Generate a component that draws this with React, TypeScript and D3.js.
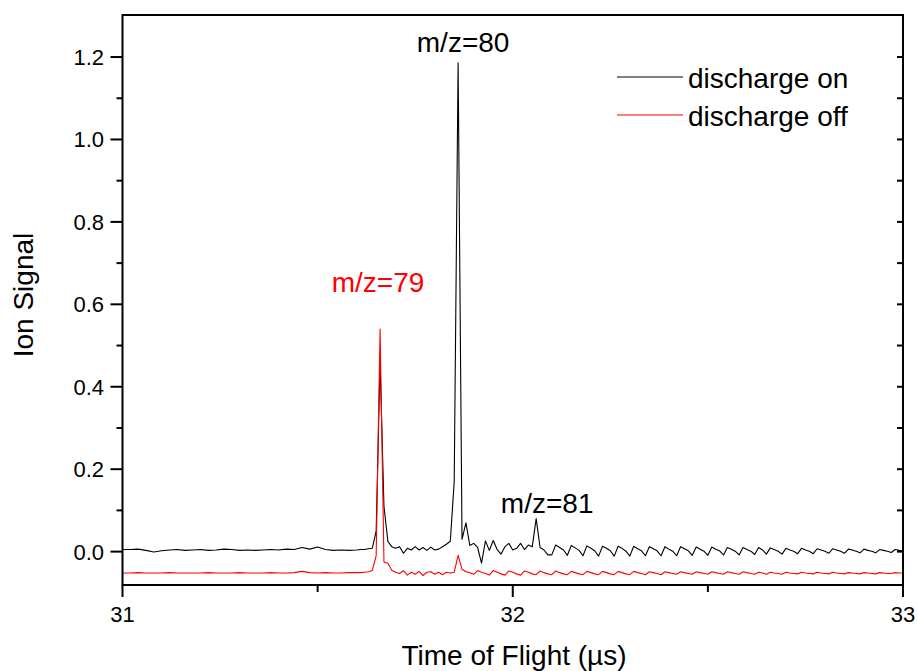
import React from "react";
import * as d3 from "d3";

// ---------- data ----------
const X_DOMAIN: [number, number] = [31, 33];
const Y_DOMAIN: [number, number] = [-0.081, 1.302];
const X_MAJOR = [31, 32, 33];
const X_MINOR = [31.5, 32.5];
const Y_MAJOR = [0, 0.2, 0.4, 0.6, 0.8, 1.0, 1.2];
const Y_MINOR = [0.1, 0.3, 0.5, 0.7, 0.9, 1.1];
const X_TITLE = "Time of Flight (µs)";
const Y_TITLE = "Ion Signal";
const SERIES_NAMES = ["discharge on", "discharge off"];
const PEAK_LABELS = ["m/z=79", "m/z=80", "m/z=81"];
const PEAK_TIMES = [31.66, 31.86, 32.06];

// discharge on: [time (µs), signal]
const dischargeOn: [number, number][] = [
  [31.00,0.005],[31.02,0.005],[31.04,0.006],[31.06,0.003],[31.08,-0.001],[31.10,0.002],
  [31.12,0.004],[31.14,0.005],[31.16,0.003],[31.18,0.004],[31.20,0.005],[31.22,0.003],
  [31.24,0.004],[31.26,0.006],[31.28,0.005],[31.30,0.003],[31.32,0.004],[31.34,0.003],
  [31.36,0.004],[31.38,0.005],[31.40,0.004],[31.42,0.006],[31.44,0.005],[31.46,0.010],
  [31.48,0.006],[31.50,0.011],[31.52,0.005],[31.54,0.003],[31.56,0.004],[31.58,0.003],
  [31.60,0.004],[31.61,0.005],[31.62,0.005],[31.63,0.007],[31.64,0.008],[31.65,0.05],
  [31.66,0.46],[31.67,0.11],[31.68,0.025],[31.69,0.012],[31.70,0.008],[31.71,0.012],
  [31.72,-0.004],[31.73,0.008],[31.74,0.004],[31.75,0.012],[31.76,0.004],[31.77,0.010],
  [31.78,0.003],[31.79,0.011],[31.80,0.004],[31.81,0.006],[31.82,0.012],[31.83,0.018],
  [31.84,0.025],[31.85,0.17],[31.86,1.186],[31.87,0.03],[31.88,0.07],[31.89,0.015],
  [31.90,0.02],[31.91,0.01],[31.92,-0.028],[31.93,0.026],[31.94,0.003],[31.95,0.027],
  [31.96,0.005],[31.97,-0.006],[31.98,0.012],[31.99,0.02],[32.00,0.004],[32.01,0.008],
  [32.02,0.02],[32.03,0.005],[32.04,0.016],[32.05,0.012],[32.06,0.08],[32.07,0.01],
  [32.08,0.004],[32.09,-0.008],[32.10,-0.008],[32.11,0.016],[32.12,0.010],[32.13,0.004],
  [32.14,-0.009],[32.15,0.015],[32.16,0.009],[32.17,0.003],[32.18,-0.010],[32.19,0.014],
  [32.20,0.008],[32.21,0.002],[32.22,-0.011],[32.23,0.013],[32.24,0.008],[32.25,0.002],
  [32.26,-0.011],[32.27,0.013],[32.28,0.008],[32.29,0.001],[32.30,-0.011],[32.31,0.013],
  [32.32,0.007],[32.33,0.002],[32.34,-0.010],[32.35,0.012],[32.36,0.007],[32.37,0.002],
  [32.38,-0.010],[32.39,0.012],[32.40,0.006],[32.41,0.001],[32.42,-0.010],[32.43,0.012],
  [32.44,0.007],[32.45,0.002],[32.46,-0.009],[32.47,0.011],[32.48,0.006],[32.49,0.001],
  [32.50,-0.009],[32.51,0.011],[32.52,0.006],[32.53,0.002],[32.54,-0.008],[32.55,0.010],
  [32.56,0.006],[32.57,0.001],[32.58,-0.008],[32.59,0.010],[32.60,0.005],[32.61,0.001],
  [32.62,-0.007],[32.63,0.010],[32.64,0.004],[32.65,-0.006],[32.66,0.009],[32.67,0.005],
  [32.68,0.001],[32.69,-0.006],[32.70,0.008],[32.71,0.004],[32.72,0.001],[32.73,-0.005],
  [32.74,0.008],[32.75,0.004],[32.76,0.001],[32.77,-0.005],[32.78,0.007],[32.79,0.004],
  [32.80,0.001],[32.81,-0.004],[32.82,0.007],[32.83,0.004],[32.84,0.001],[32.85,-0.004],
  [32.86,0.006],[32.87,0.004],[32.88,0.001],[32.89,-0.003],[32.90,0.006],[32.91,0.003],
  [32.92,0.001],[32.93,-0.003],[32.94,0.005],[32.95,0.003],[32.96,0.001],[32.97,-0.002],
  [32.98,0.005],[32.99,0.003],[33.00,0.002],
];

// discharge off: [time (µs), signal]
const dischargeOff: [number, number][] = [
  [31.00,-0.052],[31.02,-0.052],[31.04,-0.051],[31.06,-0.052],[31.08,-0.052],[31.10,-0.052],
  [31.12,-0.051],[31.14,-0.052],[31.16,-0.052],[31.18,-0.052],[31.20,-0.052],[31.22,-0.051],
  [31.24,-0.052],[31.26,-0.052],[31.28,-0.052],[31.30,-0.051],[31.32,-0.052],[31.34,-0.052],
  [31.36,-0.052],[31.38,-0.051],[31.40,-0.052],[31.42,-0.052],[31.44,-0.051],[31.46,-0.048],
  [31.48,-0.051],[31.50,-0.052],[31.52,-0.051],[31.54,-0.052],[31.56,-0.052],[31.58,-0.051],
  [31.60,-0.051],[31.61,-0.051],[31.62,-0.050],[31.63,-0.049],[31.64,-0.046],[31.65,-0.01],
  [31.66,0.54],[31.67,-0.025],[31.68,-0.028],[31.69,-0.045],[31.70,-0.050],[31.71,-0.053],
  [31.72,-0.046],[31.73,-0.057],[31.74,-0.050],[31.75,-0.055],[31.76,-0.048],[31.77,-0.058],
  [31.78,-0.050],[31.79,-0.049],[31.80,-0.055],[31.81,-0.050],[31.82,-0.056],[31.83,-0.050],
  [31.84,-0.052],[31.85,-0.050],[31.86,-0.009],[31.87,-0.043],[31.88,-0.049],[31.89,-0.051],
  [31.90,-0.055],[31.91,-0.046],[31.92,-0.050],[31.93,-0.053],[31.94,-0.057],[31.95,-0.046],
  [31.96,-0.050],[31.97,-0.054],[31.98,-0.057],[31.99,-0.047],[32.00,-0.050],[32.01,-0.054],
  [32.02,-0.057],[32.03,-0.047],[32.04,-0.050],[32.05,-0.054],[32.06,-0.056],[32.07,-0.047],
  [32.08,-0.051],[32.09,-0.054],[32.10,-0.056],[32.11,-0.047],[32.12,-0.051],[32.13,-0.054],
  [32.14,-0.056],[32.15,-0.048],[32.16,-0.051],[32.17,-0.054],[32.18,-0.056],[32.19,-0.048],
  [32.20,-0.051],[32.21,-0.054],[32.22,-0.056],[32.23,-0.048],[32.24,-0.051],[32.25,-0.054],
  [32.26,-0.056],[32.27,-0.048],[32.28,-0.051],[32.29,-0.054],[32.30,-0.056],[32.31,-0.048],
  [32.32,-0.051],[32.33,-0.053],[32.34,-0.056],[32.35,-0.049],[32.36,-0.051],[32.37,-0.053],
  [32.38,-0.056],[32.39,-0.049],[32.40,-0.051],[32.41,-0.053],[32.42,-0.055],[32.43,-0.049],
  [32.44,-0.051],[32.45,-0.053],[32.46,-0.055],[32.47,-0.049],[32.48,-0.051],[32.49,-0.053],
  [32.50,-0.055],[32.51,-0.049],[32.52,-0.051],[32.53,-0.053],[32.54,-0.055],[32.55,-0.049],
  [32.56,-0.051],[32.57,-0.053],[32.58,-0.055],[32.59,-0.049],[32.60,-0.051],[32.61,-0.053],
  [32.62,-0.055],[32.63,-0.050],[32.64,-0.052],[32.65,-0.055],[32.66,-0.050],[32.67,-0.052],
  [32.68,-0.053],[32.69,-0.055],[32.70,-0.050],[32.71,-0.052],[32.72,-0.053],[32.73,-0.054],
  [32.74,-0.050],[32.75,-0.052],[32.76,-0.053],[32.77,-0.054],[32.78,-0.050],[32.79,-0.052],
  [32.80,-0.053],[32.81,-0.054],[32.82,-0.050],[32.83,-0.052],[32.84,-0.053],[32.85,-0.054],
  [32.86,-0.051],[32.87,-0.052],[32.88,-0.053],[32.89,-0.054],[32.90,-0.051],[32.91,-0.052],
  [32.92,-0.053],[32.93,-0.054],[32.94,-0.051],[32.95,-0.052],[32.96,-0.053],[32.97,-0.053],
  [32.98,-0.051],[32.99,-0.052],[33.00,-0.052],
];

// ---------- layout ----------
const W = 917;
const H = 671;
const PLOT = { left: 122.5, right: 903, top: 15, bottom: 585 };
const FONT = "'Liberation Sans', Arial, Helvetica, sans-serif";

export default function App() {
  const x = d3.scaleLinear().domain(X_DOMAIN).range([PLOT.left, PLOT.right]);
  const y = d3.scaleLinear().domain(Y_DOMAIN).range([PLOT.bottom, PLOT.top]);
  const line = d3
    .line<[number, number]>()
    .x((d) => x(d[0]))
    .y((d) => y(d[1]));

  const peakOf = (series: [number, number][], t: number) =>
    series.reduce((m, d) => (Math.abs(d[0] - t) < Math.abs(m[0] - t) ? d : m), series[0]);

  const p79 = peakOf(dischargeOff, PEAK_TIMES[0]);
  const p80 = peakOf(dischargeOn, PEAK_TIMES[1]);
  const p81 = peakOf(dischargeOn, PEAK_TIMES[2]);

  const fmtY = d3.format(".1f");
  const tickFs = 22;
  const bigFs = 28;

  return (
    <svg
      width={W}
      height={H}
      style={{ position: "absolute", left: 0, top: 0, background: "#fff", display: "block" }}
      fontFamily={FONT}
    >
      <rect x={0} y={0} width={W} height={H} fill="#fff" />
      <defs>
        <clipPath id="plotclip">
          <rect x={PLOT.left} y={PLOT.top} width={PLOT.right - PLOT.left} height={PLOT.bottom - PLOT.top} />
        </clipPath>
      </defs>

      {/* data */}
      <g clipPath="url(#plotclip)" fill="none" strokeLinejoin="round">
        <path d={line(dischargeOn) || ""} stroke="#000" strokeWidth={1.1} />
        <path d={line(dischargeOff) || ""} stroke="#ff0000" strokeWidth={1.1} />
      </g>

      {/* frame */}
      <rect
        x={PLOT.left}
        y={PLOT.top}
        width={PLOT.right - PLOT.left}
        height={PLOT.bottom - PLOT.top}
        fill="none"
        stroke="#000"
        strokeWidth={2}
      />

      {/* ticks */}
      <g stroke="#000" strokeWidth={2}>
        {X_MAJOR.map((t) => (
          <line key={"xM" + t} x1={x(t)} x2={x(t)} y1={PLOT.bottom} y2={PLOT.bottom + 12} />
        ))}
        {X_MINOR.map((t) => (
          <line key={"xm" + t} x1={x(t)} x2={x(t)} y1={PLOT.bottom} y2={PLOT.bottom + 7} />
        ))}
        {Y_MAJOR.map((v) => (
          <line key={"yM" + v} x1={PLOT.left - 12} x2={PLOT.left} y1={y(v)} y2={y(v)} />
        ))}
        {Y_MINOR.map((v) => (
          <line key={"ym" + v} x1={PLOT.left - 6} x2={PLOT.left} y1={y(v)} y2={y(v)} />
        ))}
        {Y_MAJOR.concat(Y_MINOR).map((v) => (
          <line key={"yr" + v} x1={PLOT.right - 6} x2={PLOT.right} y1={y(v)} y2={y(v)} />
        ))}
      </g>

      {/* tick labels */}
      <g fontSize={tickFs} fill="#000">
        {X_MAJOR.map((t) => (
          <text key={"xl" + t} x={x(t)} y={622} textAnchor="middle">
            {t}
          </text>
        ))}
        {Y_MAJOR.map((v) => (
          <text key={"yl" + v} x={104} y={y(v)} dy="0.36em" textAnchor="end">
            {fmtY(v)}
          </text>
        ))}
      </g>

      {/* axis titles */}
      <text x={514} y={665} fontSize={bigFs} textAnchor="middle" fill="#000">
        {X_TITLE}
      </text>
      <text
        transform={`translate(33, 295) rotate(-90)`}
        fontSize={bigFs}
        textAnchor="middle"
        fill="#000"
      >
        {Y_TITLE}
      </text>

      {/* peak annotations */}
      <g fontSize={bigFs} textAnchor="middle">
        <text x={x(p79[0]) - 2} y={y(p79[1]) - 37} fill="#ff0000">
          {PEAK_LABELS[0]}
        </text>
        <text x={x(p80[0]) + 5} y={y(p80[1]) - 11} fill="#000">
          {PEAK_LABELS[1]}
        </text>
        <text x={x(p81[0]) + 11} y={y(p81[1]) - 6} fill="#000">
          {PEAK_LABELS[2]}
        </text>
      </g>

      {/* legend */}
      <g fontSize={bigFs}>
        <line x1={617} x2={683} y1={77} y2={77} stroke="#000" strokeWidth={1.1} />
        <text x={688} y={88} fill="#000">
          {SERIES_NAMES[0]}
        </text>
        <line x1={617} x2={683} y1={115} y2={115} stroke="#ff0000" strokeWidth={1.1} />
        <text x={688} y={126} fill="#000">
          {SERIES_NAMES[1]}
        </text>
      </g>
    </svg>
  );
}
